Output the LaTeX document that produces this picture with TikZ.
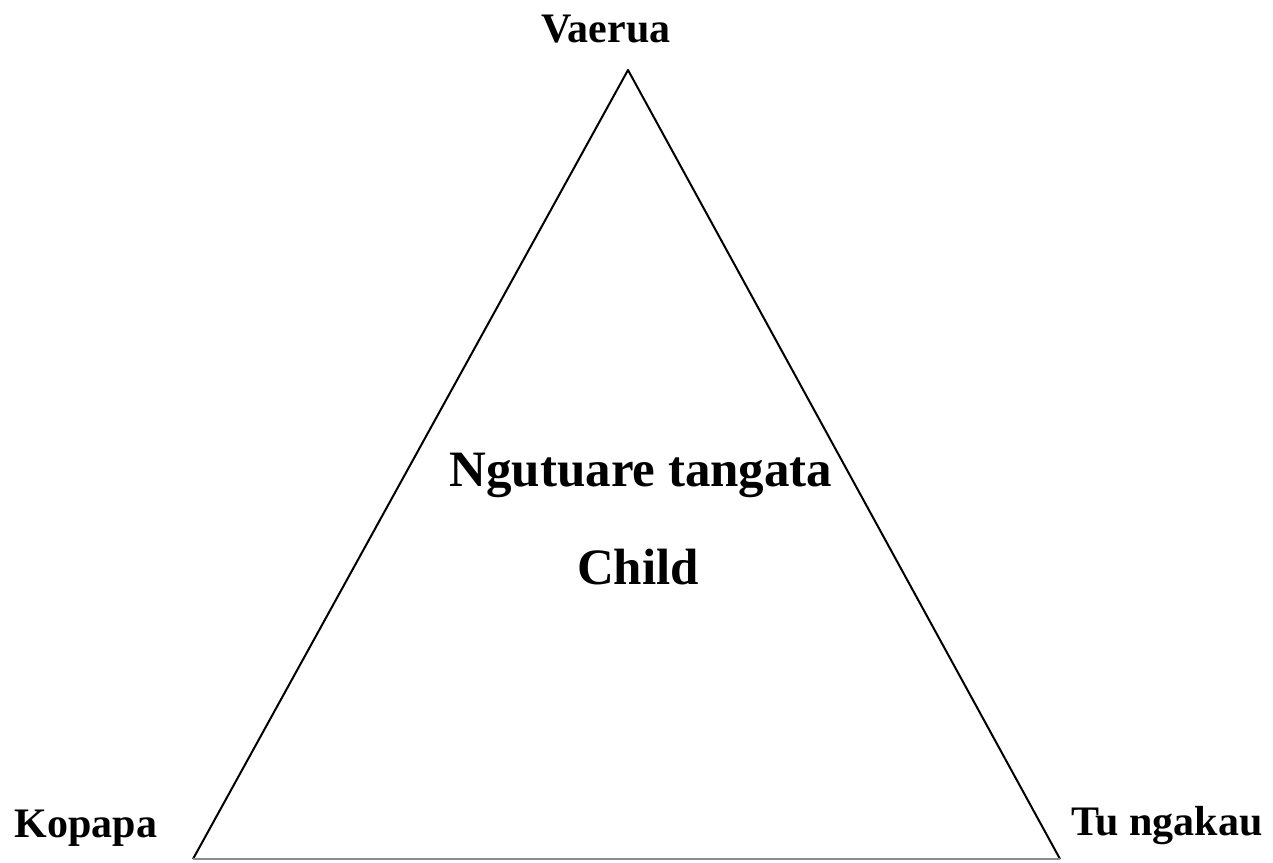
\documentclass[tikz,border=0pt]{standalone}
\usepackage{fontspec}
\setmainfont{Liberation Serif}
\begin{document}
\begin{tikzpicture}[x=1pt,y=-1pt,
  outer/.style={font=\fontsize{42}{48}\selectfont\bfseries, anchor=base, inner sep=0pt},
  inner/.style={font=\fontsize{51}{58}\selectfont\bfseries, anchor=base, inner sep=0pt},
  edge/.style={line width=2pt, black},
  baseedge/.style={line width=1.6pt, black!45}]
\useasboundingbox (0,0) rectangle (1273,862);
\coordinate (top) at (628,70);
\coordinate (bl) at (193,859);
\coordinate (br) at (1060,859);
\draw[edge, line join=round] (bl) -- (top) -- (br);
\draw[baseedge] (bl) -- (br);
\node[outer] (vaerua) at (606,42) {Vaerua};
\node[outer] (kopapa) at (86,837) {Kopapa};
\node[outer] (tungakau) at (1167,835) {Tu ngakau};
\node[inner] (ngutuare) at (641,486) {Ngutuare tangata};
\node[inner] (child) at (638,584) {Child};
\end{tikzpicture}
\end{document}
